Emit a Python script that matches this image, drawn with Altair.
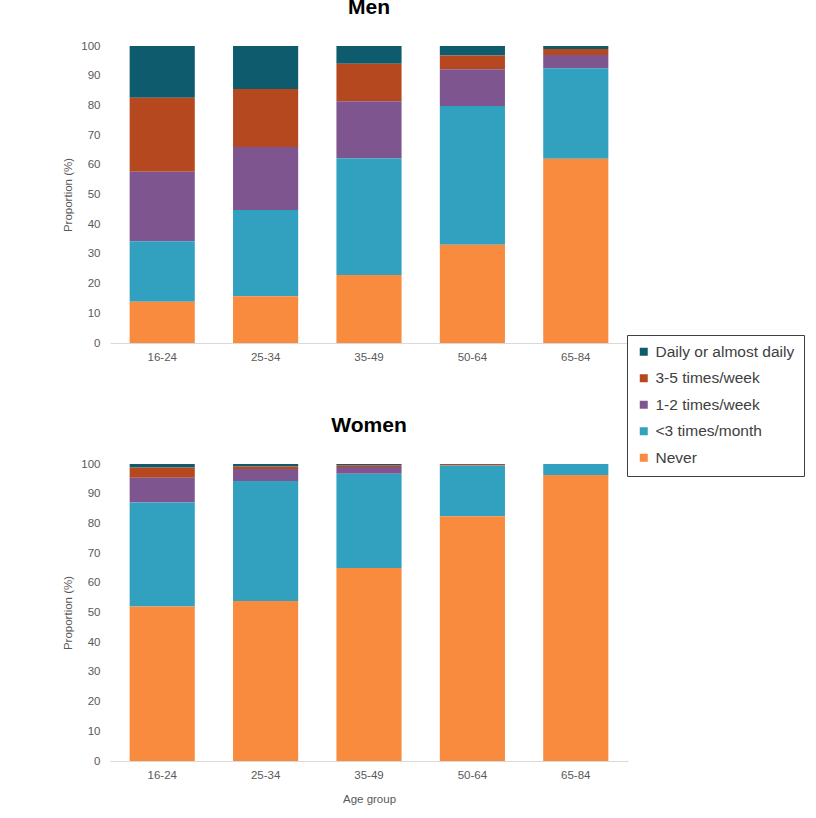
import altair as alt
import pandas as pd

ages = ["16-24", "25-34", "35-49", "50-64", "65-84"]
freqs = ["Daily or almost daily", "3-5 times/week", "1-2 times/week", "<3 times/month", "Never"]
colors = ["#0d5b6c", "#b5481f", "#7f5590", "#32a1bf", "#f98b3f"]

# values per frequency (Never, <3/month, 1-2/week, 3-5/week, Daily) per age group
men_never = [13.9, 15.7, 22.9, 33.1, 62.0]
men_lt3 = [20.4, 29.1, 39.3, 46.7, 30.5]
men_12 = [23.4, 21.2, 19.2, 12.4, 4.5]
men_35 = [24.9, 19.5, 12.6, 4.6, 2.0]
men_daily = [17.4, 14.5, 6.0, 3.2, 1.0]

women_never = [52.0, 53.9, 65.0, 82.4, 96.3]
women_lt3 = [35.0, 40.4, 31.7, 17.1, 3.7]
women_12 = [8.4, 4.0, 2.3, 0.1, 0.0]
women_35 = [3.4, 0.9, 0.6, 0.4, 0.0]
women_daily = [1.2, 0.8, 0.4, 0.0, 0.0]

rows = []
for sex, series in [("Men", [men_daily, men_35, men_12, men_lt3, men_never]),
                    ("Women", [women_daily, women_35, women_12, women_lt3, women_never])]:
    for fi, (f, vals) in enumerate(zip(freqs, series)):
        for a, v in zip(ages, vals):
            rows.append({"sex": sex, "age": a, "freq": f, "value": v, "ord": 4 - fi})
df = pd.DataFrame(rows)

FONT = "Liberation Sans"
GRAY = "#595959"


def panel(sex, show_xtitle):
    return (
        alt.Chart(df[df.sex == sex])
        .mark_bar()
        .encode(
            x=alt.X(
                "age:N",
                sort=ages,
                scale=alt.Scale(paddingInner=0.37, paddingOuter=0.19),
                axis=alt.Axis(
                    title="Age group" if show_xtitle else None,
                    labelAngle=0,
                    ticks=False,
                    labelPadding=8,
                    domainColor="#d9d9d9",
                    labelFont=FONT,
                    labelFontSize=11.5,
                    labelColor=GRAY,
                    titleFont=FONT,
                    titleFontSize=11.5,
                    titleFontWeight="normal",
                    titleColor=GRAY,
                    titlePadding=13,
                ),
            ),
            y=alt.Y(
                "value:Q",
                stack="zero",
                scale=alt.Scale(domain=[0, 100], nice=False),
                axis=alt.Axis(
                    title="Proportion (%)",
                    values=list(range(0, 101, 10)),
                    grid=False,
                    domain=False,
                    ticks=False,
                    labelPadding=10,
                    labelFont=FONT,
                    labelFontSize=11.5,
                    labelColor=GRAY,
                    titleFont=FONT,
                    titleFontSize=11.5,
                    titleFontWeight="normal",
                    titleColor=GRAY,
                    titlePadding=7,
                ),
            ),
            color=alt.Color(
                "freq:N",
                sort=freqs,
                scale=alt.Scale(domain=freqs, range=colors),
                legend=alt.Legend(
                    title=None,
                    orient="none",
                    legendX=517,
                    legendY=289,
                    symbolType="square",
                    symbolSize=64,
                    symbolStrokeWidth=0,
                    labelFont=FONT,
                    labelFontSize=15.5,
                    labelColor="#404040",
                    labelOffset=4,
                    rowPadding=9.5,
                    padding=9,
                    strokeColor="#404040",
                    fillColor="white",
                    labelLimit=300,
                ),
            ),
            order=alt.Order("ord:Q", sort="ascending"),
            tooltip=["age", "freq", "value"],
        )
        .properties(
            width=518,
            height=297,
            title=alt.TitleParams(
                sex, font=FONT, fontSize=21, fontWeight="bold", color="#000000", offset=22
            ),
        )
    )


chart = (
    alt.vconcat(panel("Men", False), panel("Women", True), spacing=52)
    .properties(
        padding={"left": 62, "top": -3, "right": 5, "bottom": 5},
        background="white",
    )
    .configure_view(strokeWidth=0, stroke=None)
)

chart.save("out.html", embed_options={"renderer": "svg", "actions": False})
